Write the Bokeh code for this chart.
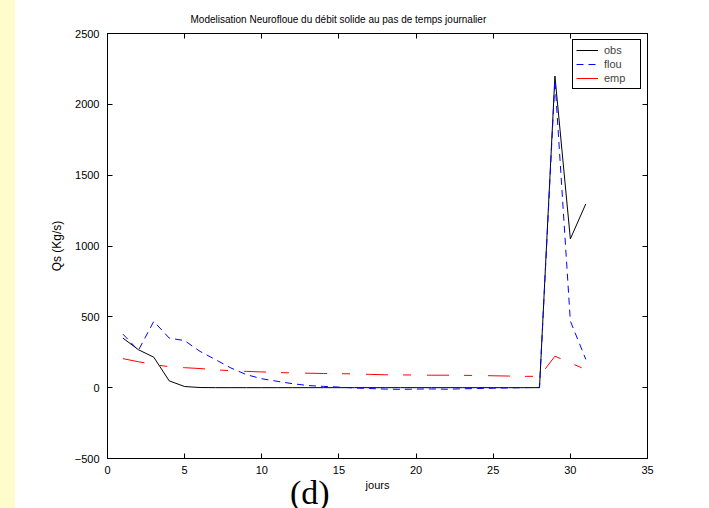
from bokeh.plotting import figure
from bokeh.models import (Range1d, LinearAxis, SingleIntervalTicker, Legend, LegendItem,
                          Div, Title)
from bokeh.layouts import row
from bokeh.embed import file_html
from bokeh.resources import INLINE

# ---- data ----
jours = list(range(1, 32))
obs = [350, 268, 215, 48, 8, 1, 0, 0, 0, 0, 0, 0, 0, 0, 0, 0, 0, 0, 0, 0,
       0, 0, 0, 0, 0, 0, 0, 0, 2200, 1050, 1297]
flou = [378, 263, 468, 350, 332, 256, 198, 139, 92, 63, 45, 28, 15, 9, 4, -2,
        -6, -10, -12, -10, -9, -11, -8, -6, -4, -2, 0, 2, 2170, 470, 200]
emp = [205, 183, 163, 148, 141, 135, 126, 120, 115, 111, 107, 104, 102, 100, 99,
       97, 94, 91, 90, 89, 88, 88, 87, 86, 84, 82, 80, 80, 222, 175, 128]
series_labels = ["obs", "flou", "emp"]
panel_tag = "(d)"
x_ticks_interval = 5
y_ticks_interval = 500

FONT = "Liberation Sans"

p = figure(width=694, height=508, frame_width=540, frame_height=425,
           min_border_left=92, min_border_right=62, min_border_top=33, min_border_bottom=50,
           x_range=Range1d(0, 35), y_range=Range1d(-500, 2500),
           output_backend="svg", toolbar_location=None)
p.title = Title(text="Modelisation Neurofloue du débit solide au pas de temps journalier",
                align="left", offset=83, text_font=FONT, text_font_size="10px",
                text_font_style="normal", text_color="black", standoff=9)
p.grid.visible = False
p.outline_line_color = "black"
p.outline_line_width = 1
p.background_fill_color = "white"
p.border_fill_color = "white"

def style_axis(ax, ticker, show_labels=True):
    ax.ticker = ticker
    ax.minor_tick_line_color = None
    ax.major_tick_in = 5
    ax.major_tick_out = 0
    ax.axis_line_color = "black"
    ax.major_tick_line_color = "black"
    ax.major_label_text_font = FONT
    ax.major_label_text_font_size = "11px" if show_labels else "0px"
    ax.major_label_text_color = "black"
    ax.axis_label_text_font = FONT
    ax.axis_label_text_font_size = "11px"
    ax.axis_label_text_font_style = "normal"
    ax.axis_label_text_color = "black"
    if not show_labels:
        ax.major_label_standoff = 0

xt = SingleIntervalTicker(interval=x_ticks_interval)
yt = SingleIntervalTicker(interval=y_ticks_interval)

style_axis(p.xaxis[0], xt)
p.xaxis[0].axis_label = "jours"
p.xaxis[0].major_label_standoff = 3
p.xaxis[0].axis_label_standoff = 2

style_axis(p.yaxis[0], yt)
p.yaxis[0].axis_label = "Qs (Kg/s)"
p.yaxis[0].axis_label_text_font_size = "12px"
p.yaxis[0].major_label_standoff = 4
p.yaxis[0].axis_label_standoff = 8

top_ax = LinearAxis()
style_axis(top_ax, SingleIntervalTicker(interval=x_ticks_interval), show_labels=False)
p.add_layout(top_ax, "above")
right_ax = LinearAxis()
style_axis(right_ax, SingleIntervalTicker(interval=y_ticks_interval), show_labels=False)
p.add_layout(right_ax, "right")

r_obs = p.line(jours, obs, line_color="black", line_width=1)
r_flou = p.line(jours, flou, line_color="#0000FF", line_width=1, line_dash="7 5")
r_emp = p.line(jours, emp, line_color="#FF0000", line_width=1, line_dash="22 15 8 16")

legend = Legend(items=[LegendItem(label=series_labels[0], renderers=[r_obs]),
                       LegendItem(label=series_labels[1], renderers=[r_flou]),
                       LegendItem(label=series_labels[2], renderers=[r_emp])],
                location="top_right", margin=6, padding=3, spacing=0,
                label_text_font=FONT, label_text_font_size="11px",
                label_height=14, glyph_height=14, glyph_width=22, label_standoff=6,
                label_width=33,
                border_line_color="black", border_line_width=1, border_line_alpha=1,
                background_fill_color="white", background_fill_alpha=1)
p.add_layout(legend, "center")

strip = Div(width=15, height=508, margin=0,
            styles={"background-color": "#FFFCCC"})
layout = row(strip, p, spacing=0)

html = file_html(layout, INLINE)
html = html.replace("<head>", "<head><style>html,body{margin:0;padding:0;overflow:hidden;}</style>", 1)
tag_div = ('<div style="position:absolute;left:290px;top:476px;'
           "font-family:'Liberation Serif';font-size:34px;line-height:34px;"
           'color:black;white-space:nowrap;">' + panel_tag + '</div>')
html = html.replace("</body>", tag_div + "</body>", 1)
open("out.html", "w").write(html)
